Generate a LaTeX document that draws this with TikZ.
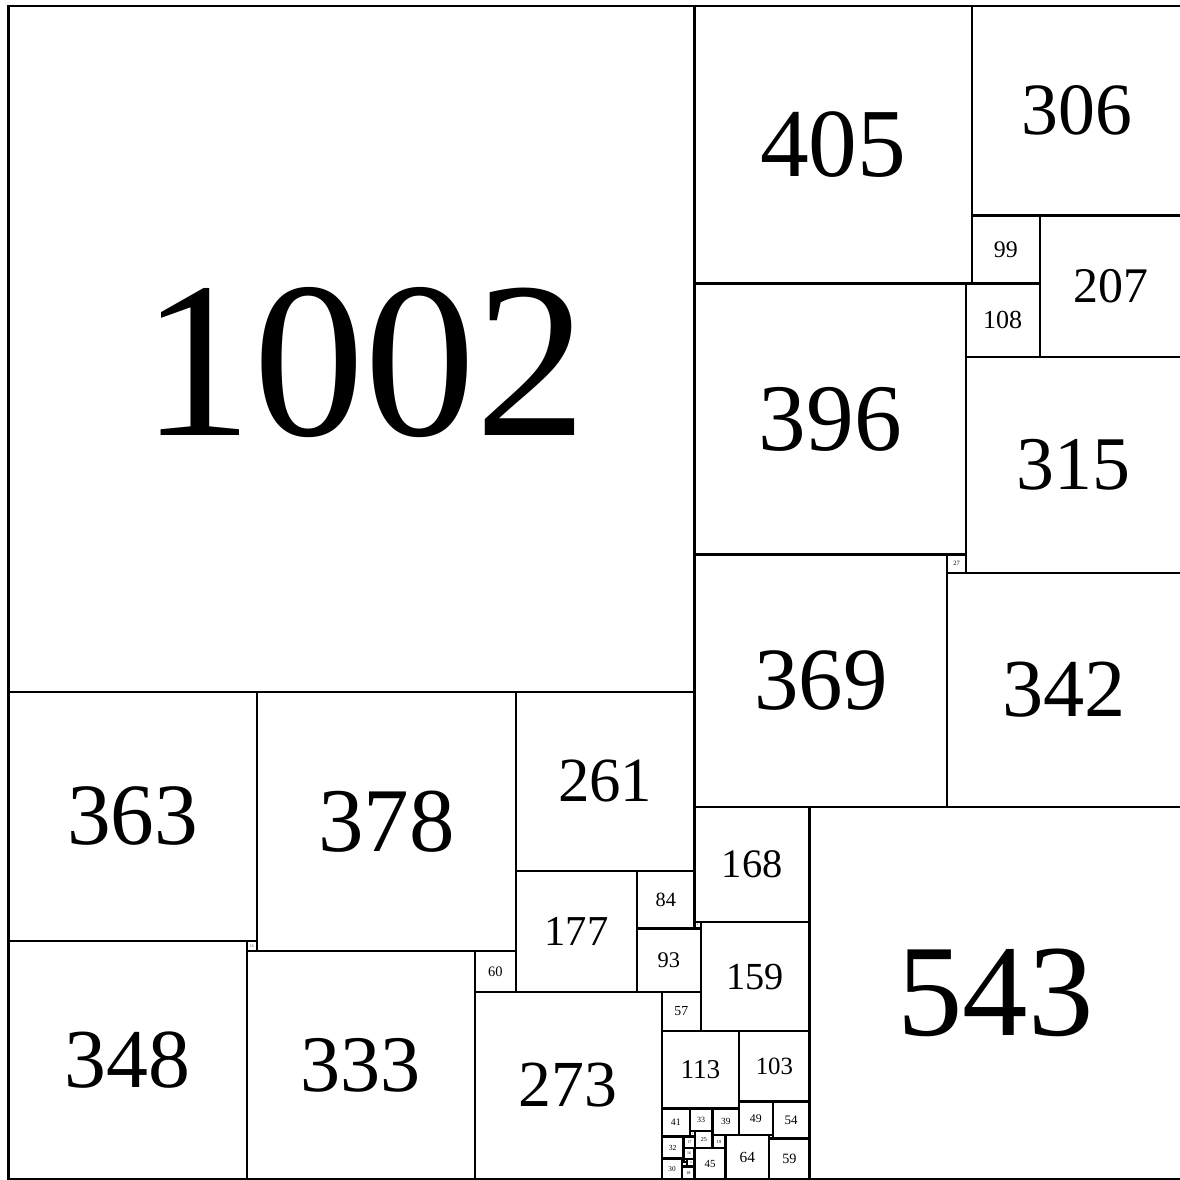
\documentclass[tikz,border=0pt]{standalone}
\usepackage{fontspec}
\setmainfont{Liberation Serif}
\usepackage{tikz}

\begin{document}
\begin{tikzpicture}[
  x=0.01cm, y=-0.01cm,
  sq/.style 2 args = {draw=black, line width=0.034cm, fill=white, inner sep=0pt,
                      minimum size=#1*0.01cm, font=\fontsize{#2}{#2}\selectfont}
]
  \useasboundingbox (-12.4,-8.8) rectangle (1710.8,1714.5);

  % ---- Top left: the big one ----
  \node[sq={1002}{92.5}, text height=72pt, text depth=0pt] at (501, 501) (s1002) {\hspace*{0.38cm}1002};

  % ---- Right column, top ----
  \node[sq={405}{40.5}]  at (1204.5, 202.5) (s405)  {405};
  \node[sq={306}{30.6}]  at (1560,   153)   (s306)  {306};
  \node[sq={99}{9.9}]    at (1456.5, 355.5) (s99)   {99};
  \node[sq={207}{20.7}]  at (1609.5, 409.5) (s207)  {207};
  \node[sq={396}{39.6}]  at (1200,   603)   (s396)  {396};
  \node[sq={108}{10.8}]  at (1452,   459)   (s108)  {108};
  \node[sq={315}{31.5}]  at (1555.5, 670.5) (s315)  {315};
  \node[sq={27}{2.7}]    at (1384.5, 814.5) (s27)   {27};
  \node[sq={369}{36.9}]  at (1186.5, 985.5) (s369)  {369};
  \node[sq={342}{34.2}]  at (1542,   999)   (s342)  {342};
  \node[sq={543}{54.3}]  at (1441.5, 1441.5)(s543)  {543};

  % ---- Bottom left row ----
  \node[sq={363}{36.3}]  at (181.5,  1183.5)(s363)  {363};
  \node[sq={378}{37.8}]  at (552,    1191)  (s378)  {378};
  \node[sq={261}{26.1}]  at (871.5,  1132.5)(s261)  {261};
  \node[sq={348}{34.8}]  at (174,    1539)  (s348)  {348};
  \node[sq={15}{1.5}]    at (355.5,  1372.5)(s15)   {15};
  \node[sq={333}{33.3}]  at (514.5,  1546.5)(s333)  {333};
  \node[sq={60}{6.0}]    at (711,    1410)  (s60)   {60};
  \node[sq={273}{27.3}]  at (817.5,  1576.5)(s273)  {273};

  % ---- Middle bits ----
  \node[sq={168}{16.8}]  at (1086,   1254)  (s168)  {168};
  \node[sq={177}{17.7}]  at (829.5,  1351.5)(s177)  {177};
  \node[sq={84}{8.4}]    at (960,    1305)  (s84)   {84};
  \node[sq={93}{9.3}]    at (964.5,  1393.5)(s93)   {93};
  \node[sq={9}{0.9}]     at (1006.5, 1342.5)(s9)    {9};
  \node[sq={159}{15.9}]  at (1090.5, 1417.5)(s159)  {159};
  \node[sq={57}{5.7}]    at (982.5,  1468.5)(s57)   {57};

  % ---- Bottom cluster (216 x 216) ----
  \node[sq={113}{11.3}]  at (1010.5, 1553.5)(s113)  {113};
  \node[sq={103}{10.3}]  at (1118.5, 1548.5)(s103)  {103};
  \node[sq={41}{4.1}]    at (974.5,  1630.5)(s41)   {41};
  \node[sq={33}{3.3}]    at (1011.5, 1626.5)(s33)   {33};
  \node[sq={39}{3.9}]    at (1047.5, 1629.5)(s39)   {39};
  \node[sq={49}{4.9}]    at (1091.5, 1624.5)(s49)   {49};
  \node[sq={54}{5.4}]    at (1143,   1627)  (s54)   {54};
  \node[sq={8}{0.8}]     at (999,    1647)  (s8)    {8};
  \node[sq={25}{2.5}]    at (1015.5, 1655.5)(s25)   {25};
  \node[sq={32}{3.2}]    at (970,    1667)  (s32)   {32};
  \node[sq={17}{1.7}]    at (994.5,  1659.5)(s17)   {17};
  \node[sq={19}{1.9}]    at (1037.5, 1658.5)(s19)   {19};
  \node[sq={64}{6.4}]    at (1079,   1681)  (s64)   {64};
  \node[sq={5}{0.5}]     at (1113.5, 1651.5)(s5)    {5};
  \node[sq={59}{5.9}]    at (1140.5, 1683.5)(s59)   {59};
  \node[sq={16}{1.6}]    at (994,    1676)  (s16)   {16};
  \node[sq={45}{4.5}]    at (1024.5, 1690.5)(s45)   {45};
  \node[sq={30}{3.0}]    at (969,    1698)  (s30)   {30};
  \node[sq={11}{1.1}]    at (996.5,  1689.5)(s11)   {11};
  \node[sq={18}{1.8}]    at (993,    1704)  (s18)   {18};

  % ---- Tiny ones ----
  \node[sq={7}{0.7}]     at (987.5,  1691.5)(s7)    {7};
  \node[sq={4}{0.4}]     at (989,    1686)  (s4)    {4};
  \node[sq={3}{0.3}]     at (985.5,  1686.5)(s3)    {3};
  \node[sq={2}{0.2}]     at (985,    1684)  (s2)    {2};
  \node[sq={1}{0.1}]     at (986.5,  1684.5)(s1)    {1};
\end{tikzpicture}
\end{document}
